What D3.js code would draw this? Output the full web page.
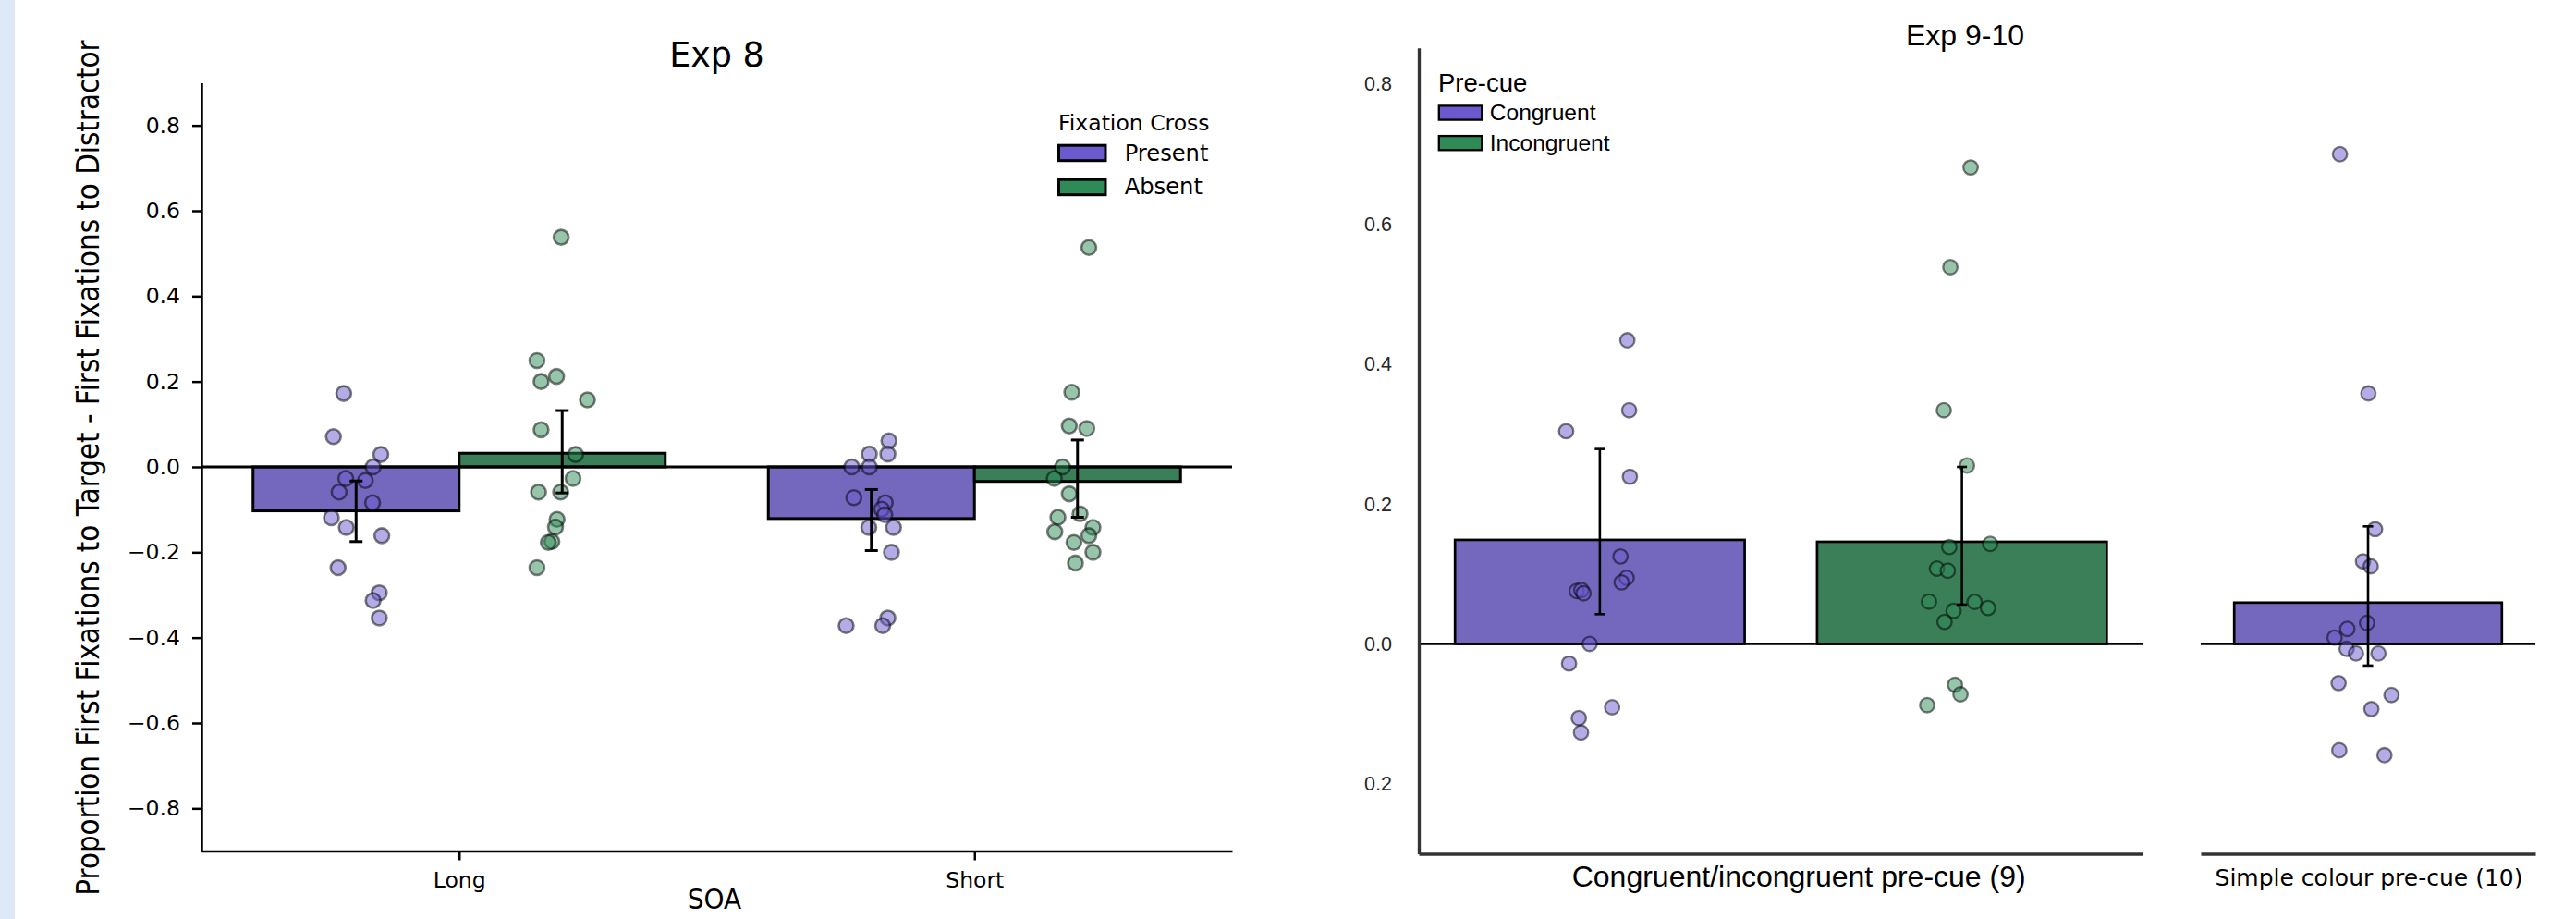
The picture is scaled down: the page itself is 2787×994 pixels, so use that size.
<!DOCTYPE html>
<html><head><meta charset="utf-8">
<script src="https://cdn.jsdelivr.net/npm/d3@7"></script>
<style>
html,body{margin:0;padding:0;background:#fff;}
svg{display:block;}
</style></head>
<body>
<svg id="chart" width="2787" height="994"></svg>
<script>
// ================= DATA =================
// ---- Exp 8 (left panel) ----
const exp8Categories = ["Long", "Short"];
const exp8Hues = ["Present", "Absent"];
const exp8YTicks = [-0.8, -0.6, -0.4, -0.2, 0.0, 0.2, 0.4, 0.6, 0.8];
const exp8PresentMeans = [-0.103, -0.121];
const exp8AbsentMeans = [0.032, -0.034];
const exp8PresentCILow = [-0.175, -0.196];
const exp8PresentCIHigh = [-0.033, -0.053];
const exp8AbsentCILow = [-0.061, -0.118];
const exp8AbsentCIHigh = [0.132, 0.063];
// individual participants (values) and their strip jitter (category units)
const exp8LongPresent = [0.172, 0.071, 0.029, 0.0, -0.027, -0.032, -0.059, -0.084, -0.119, -0.142, -0.161, -0.236, -0.295, -0.313, -0.354];
const exp8LongPresentJitter = [-0.024, -0.044, 0.048, 0.033, -0.020, 0.018, -0.033, 0.032, -0.048, -0.019, 0.050, -0.035, 0.045, 0.033, 0.045];
const exp8LongAbsent = [0.538, 0.249, 0.212, 0.200, 0.157, 0.087, 0.029, -0.027, -0.059, -0.059, -0.123, -0.141, -0.175, -0.177, -0.236];
const exp8LongAbsentJitter = [-0.002, -0.049, -0.011, -0.041, 0.049, -0.041, 0.026, 0.021, -0.046, -0.003, -0.010, -0.013, -0.020, -0.027, -0.049];
const exp8ShortPresent = [0.061, 0.030, 0.030, 0.0, 0.0, -0.072, -0.084, -0.099, -0.112, -0.142, -0.142, -0.200, -0.354, -0.372, -0.372];
const exp8ShortPresentJitter = [0.034, -0.004, 0.032, -0.038, -0.004, -0.034, 0.027, 0.020, 0.026, -0.005, 0.043, 0.039, 0.032, -0.049, 0.022];
const exp8ShortAbsent = [0.514, 0.175, 0.096, 0.090, 0.0, -0.027, -0.063, -0.110, -0.118, -0.142, -0.152, -0.161, -0.177, -0.200, -0.225];
const exp8ShortAbsentJitter = [0.022, -0.011, -0.016, 0.018, -0.029, -0.045, -0.016, 0.005, -0.038, 0.030, -0.044, 0.022, -0.007, 0.030, -0.004];

// ---- Exp 9-10 (right panel) ----
const exp910Hues = ["Congruent", "Incongruent"];
const exp910YTicks = [-0.2, 0.0, 0.2, 0.4, 0.6, 0.8];
const exp9Label = "Congruent/incongruent pre-cue (9)";
const exp10Label = "Simple colour pre-cue (10)";
const exp9Means = [0.1487, 0.146];
const exp9CILow = [0.0425, 0.0562];
const exp9CIHigh = [0.2786, 0.253];
const exp10Mean = [0.059];
const exp10CILow = [-0.031];
const exp10CIHigh = [0.168];
const exp9Congruent = [0.434, 0.334, 0.304, 0.239, 0.125, 0.0945, 0.088, 0.0756, 0.077, 0.0724, 0.0, -0.028, -0.0905, -0.106, -0.1266];
const exp9CongruentJitter = [0.076, 0.081, -0.093, 0.083, 0.057, 0.074, 0.060, -0.064, -0.051, -0.045, -0.028, -0.085, 0.034, -0.058, -0.052];
const exp9Incongruent = [0.681, 0.5385, 0.334, 0.255, 0.143, 0.1385, 0.1077, 0.1047, 0.0605, 0.0601, 0.0513, 0.0473, 0.0315, -0.0584, -0.072, -0.0875];
const exp9IncongruentJitter = [0.024, -0.032, -0.050, 0.014, 0.078, -0.035, -0.069, -0.039, -0.091, 0.035, 0.072, -0.023, -0.048, -0.019, -0.004, -0.096];
const exp10Simple = [0.700, 0.358, 0.164, 0.118, 0.111, 0.030, 0.0215, 0.009, -0.007, -0.0136, -0.0136, -0.056, -0.073, -0.093, -0.152, -0.159];
const exp10SimpleJitter = [-0.084, 0.001, 0.021, -0.015, 0.008, -0.003, -0.062, -0.100, -0.064, -0.036, 0.031, -0.088, 0.070, 0.010, -0.086, 0.049];

// ================= STYLE =================
const PURPLE = "#6a5acd", GREEN = "#2e8b57";
const PURPLE_BAR = "#7468be", GREEN_BAR = "#3a7f58";
const FONT_DV = "'DejaVu Sans', sans-serif";
const FONT_AR = "'Liberation Sans', Arial, sans-serif";

const svg = d3.select("#chart");
const defs = svg.append("defs");
svg.append("rect").attr("width", 2787).attr("height", 994).attr("fill", "#fff");
svg.append("rect").attr("x", 0).attr("y", 0).attr("width", 16).attr("height", 994).attr("fill", "#dde9f6");

function drawBar(g, x, y, center, halfW, value, fill, sw) {
  g.append("rect")
    .attr("x", x(center - halfW))
    .attr("width", x(center + halfW) - x(center - halfW))
    .attr("y", y(Math.max(value, 0)))
    .attr("height", Math.abs(y(value) - y(0)))
    .attr("fill", fill).attr("stroke", "#000").attr("stroke-width", sw);
}
function drawPoints(g, x, y, center, values, jitter, color, r, sw) {
  g.selectAll(null).data(values).enter().append("circle")
    .attr("cx", (d, i) => x(center + jitter[i]))
    .attr("cy", d => y(d))
    .attr("r", r)
    .attr("fill", color).attr("fill-opacity", 0.5)
    .attr("stroke", "#000").attr("stroke-opacity", 0.5).attr("stroke-width", sw);
}
function drawErr(g, x, y, center, lo, hi, cap, sw) {
  const cx = x(center);
  g.append("line").attr("x1", cx).attr("x2", cx).attr("y1", y(lo)).attr("y2", y(hi))
    .attr("stroke", "#000").attr("stroke-width", sw);
  [lo, hi].forEach(v => g.append("line").attr("x1", cx - cap).attr("x2", cx + cap)
    .attr("y1", y(v)).attr("y2", y(v)).attr("stroke", "#000").attr("stroke-width", sw));
}

// ================= LEFT PANEL: Exp 8 =================
const xL = d3.scaleLinear().domain([-0.5, 1.5]).range([218, 1333]);
const yL = d3.scaleLinear().domain([-0.9, 0.9]).range([920.5, 89.5]);
const left = svg.append("g");

const exp8Means = [exp8PresentMeans, exp8AbsentMeans];
const exp8Lo = [exp8PresentCILow, exp8AbsentCILow];
const exp8Hi = [exp8PresentCIHigh, exp8AbsentCIHigh];
const exp8Pts = [[exp8LongPresent, exp8LongAbsent], [exp8ShortPresent, exp8ShortAbsent]];
const exp8Jit = [[exp8LongPresentJitter, exp8LongAbsentJitter], [exp8ShortPresentJitter, exp8ShortAbsentJitter]];
const barCols = [PURPLE_BAR, GREEN_BAR], ptCols = [PURPLE, GREEN];

exp8Categories.forEach((c, i) => {
  exp8Hues.forEach((h, k) => {
    drawBar(left, xL, yL, i - 0.2 + 0.4 * k, 0.2, exp8Means[k][i], barCols[k], 3);
  });
});
left.append("line").attr("x1", xL(-0.5)).attr("x2", xL(1.5)).attr("y1", yL(0)).attr("y2", yL(0))
  .attr("stroke", "#000").attr("stroke-width", 3);
exp8Categories.forEach((c, i) => {
  exp8Hues.forEach((h, k) => {
    drawPoints(left, xL, yL, i - 0.2 + 0.4 * k, exp8Pts[i][k], exp8Jit[i][k], ptCols[k], 8, 2.6);
  });
});
exp8Categories.forEach((c, i) => {
  exp8Hues.forEach((h, k) => {
    drawErr(left, xL, yL, i - 0.2 + 0.4 * k, exp8Lo[k][i], exp8Hi[k][i], 7, 3);
  });
});

// axes
const axL = left.append("g").attr("transform", `translate(${xL(-0.5)},0)`)
  .call(d3.axisLeft(yL).tickValues(exp8YTicks).tickSize(10).tickSizeOuter(0).tickPadding(13)
    .tickFormat(d3.format(".1f")));
const axB = left.append("g").attr("transform", `translate(0,${yL(-0.9)})`)
  .call(d3.axisBottom(xL).tickValues([0, 1]).tickSize(10).tickSizeOuter(0).tickPadding(13)
    .tickFormat(i => exp8Categories[i]));
[axL, axB].forEach(a => {
  a.attr("font-family", FONT_DV).attr("font-size", 23.5);
  a.select(".domain").attr("stroke", "#000").attr("stroke-width", 2.5);
  a.selectAll(".tick line").attr("stroke", "#000").attr("stroke-width", 2.5);
  a.selectAll(".tick text").attr("fill", "#000");
});

left.append("text").attr("x", (xL(-0.5) + xL(1.5)) / 2).attr("y", 71.7)
  .attr("text-anchor", "middle").attr("font-family", FONT_DV).attr("font-size", 36.5)
  .text("Exp 8");
// y label: glyphs taller than their advance, as in the reference
left.append("text").attr("transform", "translate(107,506) rotate(-90) scale(1,1.16)")
  .attr("text-anchor", "middle").attr("font-family", FONT_DV).attr("font-size", 29.4)
  .text("Proportion First Fixations to Target - First Fixations to Distractor");
// x label (sits at the very bottom edge, kept fully inside the frame)
left.append("text").attr("transform", "translate(773,983) scale(1,1.1)")
  .attr("text-anchor", "middle").attr("font-family", FONT_DV).attr("font-size", 28)
  .text("SOA");

// legend
const legL = left.append("g");
legL.append("text").attr("x", 1145).attr("y", 140.7).attr("font-family", FONT_DV)
  .attr("font-size", 23.5).text("Fixation Cross");
exp8Hues.forEach((h, k) => {
  legL.append("rect").attr("x", 1145.5).attr("y", 157.2 + 37 * k).attr("width", 50.5).attr("height", 16.5)
    .attr("fill", ptCols[k]).attr("stroke", "#000").attr("stroke-width", 3);
  legL.append("text").attr("x", 1216.7).attr("y", 174 + 36 * k).attr("font-family", FONT_DV)
    .attr("font-size", 24.2).text(h);
});

// ================= RIGHT PANEL: Exp 9-10 =================
const yR = d3.scaleLinear().domain([-0.3, 0.852]).range([923.5, 51.7]);
const xR1 = d3.scaleLinear().domain([-0.5, 1.5]).range([1535, 2318.5]);
const xR2 = d3.scaleLinear().domain([-0.5, 0.5]).range([2381, 2743]);
const right = svg.append("g");

// bars
exp910Hues.forEach((h, k) => drawBar(right, xR1, yR, k, 0.4, exp9Means[k], barCols[k], 2.7));
drawBar(right, xR2, yR, 0, 0.4, exp10Mean[0], PURPLE_BAR, 2.7);
// zero lines
[xR1, xR2].forEach(x => right.append("line").attr("x1", x.range()[0]).attr("x2", x.range()[1])
  .attr("y1", yR(0)).attr("y2", yR(0)).attr("stroke", "#000").attr("stroke-width", 2.7));
// points
drawPoints(right, xR1, yR, 0, exp9Congruent, exp9CongruentJitter, PURPLE, 7.8, 2.3);
drawPoints(right, xR1, yR, 1, exp9Incongruent, exp9IncongruentJitter, GREEN, 7.8, 2.3);
drawPoints(right, xR2, yR, 0, exp10Simple, exp10SimpleJitter, PURPLE, 7.8, 2.3);
// error bars
exp910Hues.forEach((h, k) => drawErr(right, xR1, yR, k, exp9CILow[k], exp9CIHigh[k], 5.5, 2.6));
drawErr(right, xR2, yR, 0, exp10CILow[0], exp10CIHigh[0], 5.5, 2.6);

// axes (the reference panel is cropped on its left, hiding the minus sign)
const axR = right.append("g").attr("transform", `translate(${xR1(-0.5)},0)`)
  .call(d3.axisLeft(yR).tickValues(exp910YTicks).tickSize(0).tickSizeOuter(0).tickPadding(29)
    .tickFormat(d3.format(".1f")));
axR.attr("font-family", FONT_AR).attr("font-size", 21.5);
axR.select(".domain").attr("stroke", "#333").attr("stroke-width", 3.3);
axR.selectAll(".tick text").attr("fill", "#262626");
defs.append("clipPath").attr("id", "tickclip").attr("clipPathUnits", "userSpaceOnUse")
  .append("rect").attr("x", 1476 - xR1(-0.5)).attr("y", -2000).attr("width", 200).attr("height", 4000);
axR.selectAll(".tick text").attr("clip-path", "url(#tickclip)");
[xR1, xR2].forEach(x => {
  const a = right.append("g").attr("transform", `translate(0,${yR(-0.3)})`)
    .call(d3.axisBottom(x).tickValues([]).tickSizeOuter(0));
  a.select(".domain").attr("stroke", "#333").attr("stroke-width", 3.3);
});

right.append("text").attr("x", 2062).attr("y", 49.3).attr("font-family", FONT_AR)
  .attr("font-size", 32).text("Exp 9-10");
right.append("text").attr("x", 1700.7).attr("y", 959).attr("font-family", FONT_AR)
  .attr("font-size", 32).text(exp9Label);
right.append("text").attr("x", (xR2.range()[0] + xR2.range()[1]) / 2 + 1).attr("y", 957.7)
  .attr("text-anchor", "middle").attr("font-family", FONT_DV).attr("font-size", 25)
  .text(exp10Label);

// legend
const legR = right.append("g");
legR.append("text").attr("x", 1556).attr("y", 99).attr("font-family", FONT_AR)
  .attr("font-size", 27.5).text("Pre-cue");
exp910Hues.forEach((h, k) => {
  legR.append("rect").attr("x", 1556.8).attr("y", 114.4 + 32.7 * k).attr("width", 46.5).attr("height", 15.2)
    .attr("fill", ptCols[k]).attr("stroke", "#000").attr("stroke-width", 2.3);
  legR.append("text").attr("x", 1611.7).attr("y", 130 + 32.7 * k).attr("font-family", FONT_AR)
    .attr("font-size", 24.6).text(h);
});
</script>
</body></html>
